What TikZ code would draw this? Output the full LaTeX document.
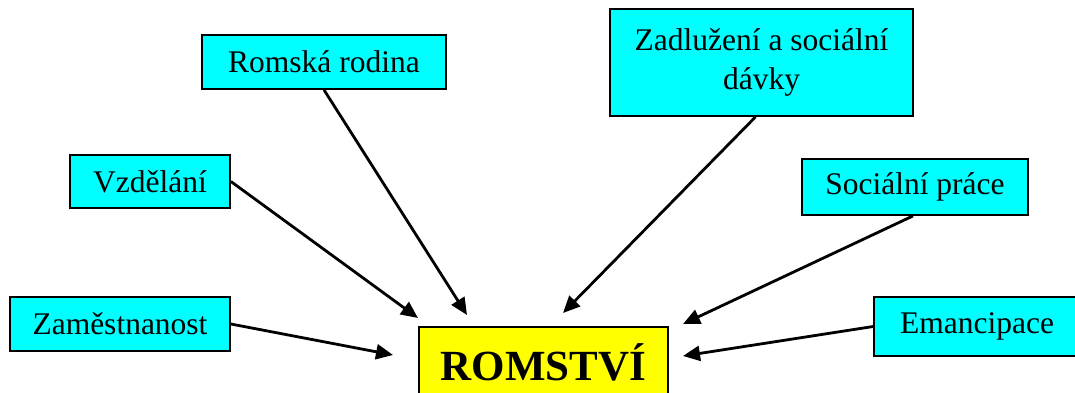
\documentclass[tikz,border=0pt]{standalone}
\usepackage{fontspec}
\setmainfont{Liberation Serif}
\usetikzlibrary{arrows.meta}
\definecolor{boxcyan}{RGB}{0,255,255}
\definecolor{boxyellow}{RGB}{255,255,0}
\begin{document}
\begin{tikzpicture}[x=1pt,y=-1pt,
  topic/.style={draw=black, line width=1.8pt, fill=boxcyan, inner sep=0pt,
    font=\fontsize{31.5}{39}\selectfont, align=center},
  core/.style={draw=black, line width=1.8pt, fill=boxyellow, inner sep=0pt,
    font=\fontsize{43}{50}\selectfont\bfseries},
  link/.style={line width=2.8pt, -{Triangle[length=17pt,width=15pt]}}]
\useasboundingbox (0,0) rectangle (1075,392);
\clip (0,0) rectangle (1075,392);
\node[topic, minimum width=220pt, minimum height=54pt] (zam) at (120,324) {Zaměstnanost};
\node[topic, minimum width=160pt, minimum height=53pt] (vzd) at (150,181.5) {Vzdělání};
\node[topic, minimum width=244pt, minimum height=54pt] (rod) at (324,62) {Romská rodina};
\node[topic, minimum width=303pt, minimum height=107pt] (zad) at (761.5,62.5) {Zadlužení a sociální\\dávky};
\node[topic, minimum width=226pt, minimum height=56pt] (soc) at (915,187) {Sociální práce};
\node[topic, minimum width=206pt, minimum height=59pt] (ema) at (977,326.5) {Emancipace};
\node[core, minimum width=249pt, minimum height=71pt] (rom) at (543.5,362.5) {ROMSTVÍ};
\coordinate (tzam) at (393,355);
\coordinate (tvzd) at (418,318);
\coordinate (trod) at (467,315);
\coordinate (tzad) at (563,313);
\coordinate (tsoc) at (683,324);
\coordinate (tema) at (683,356);
\draw[link] (zam.east) -- (tzam);
\draw[link] (vzd.east) -- (tvzd);
\draw[link] (rod.south) -- (trod);
\draw[link] ([xshift=-6pt]zad.south) -- (tzad);
\draw[link] ([xshift=-2pt]soc.south) -- (tsoc);
\draw[link] (ema.west) -- (tema);
\end{tikzpicture}
\end{document}
